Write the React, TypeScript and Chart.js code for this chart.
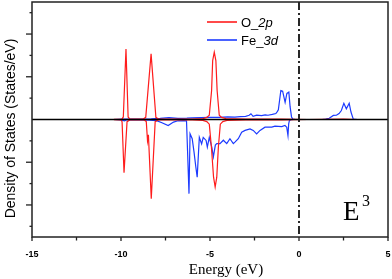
import React, { useEffect, useRef } from 'react';
import { Chart, registerables } from 'chart.js';

Chart.register(...registerables);

// ---- axis ticks ----
const X_MAJOR = [-15, -10, -5, 0, 5];
const X_MINOR = [-12.5, -7.5, -2.5, 2.5];
const Y_TICKS = [-5, -4, -3, -2, -1, 1, 2, 3, 4, 5];

// ---- O_2p spin up ----
const oUpE = [-10.4, -9.95, -9.87, -9.72, -9.6, -9.5, -8.75, -8.61, -8.31, -8.04, -7.9, -7.0, -6.0, -5.4, -5.18, -5.04, -4.91, -4.85, -4.76, -4.67, -4.6, -4.48, -4.35, -4.1, -3.0, -2.0, -1.0, -0.3, 0.5, 1.5, 2.5, 3.2];
const oUpV = [0.01, 0.02, 0.12, 3.3, 0.12, 0.02, 0.02, 0.1, 3.07, 0.1, 0.02, 0.02, 0.02, 0.04, 0.1, 0.2, 1.36, 2.76, 3.15, 2.76, 1.36, 0.2, 0.1, 0.04, 0.02, 0.02, 0.02, 0.01, 0.0, 0.01, 0.02, 0.0];

// ---- O_2p spin down ----
const oDnE = [-10.4, -10.0, -9.94, -9.83, -9.66, -9.5, -8.7, -8.58, -8.51, -8.46, -8.3, -8.08, -7.9, -7.0, -6.0, -5.4, -5.18, -5.04, -4.92, -4.8, -4.71, -4.62, -4.53, -4.42, -4.28, -4.05, -3.0, -2.0, -1.0, -0.3, 0.5, 3.2];
const oDnV = [-0.01, -0.02, -0.1, -2.49, -0.1, -0.02, -0.02, -0.1, -1.0, -0.72, -3.71, -0.1, -0.02, -0.02, -0.02, -0.04, -0.1, -0.22, -1.3, -2.7, -3.16, -2.7, -1.3, -0.22, -0.1, -0.04, -0.02, -0.02, -0.02, -0.01, 0.0, 0.0];

// ---- Fe_3d spin up ----
const feUpE = [-10.4, -9.9, -9.0, -8.3, -7.8, -7.3, -6.8, -6.3, -6.0, -5.5, -5.0, -4.5, -4.0, -3.6, -3.3, -3.0, -2.8, -2.7, -2.58, -2.38, -2.1, -1.9, -1.74, -1.5, -1.3, -1.22, -1.16, -1.02, -0.92, -0.78, -0.68, -0.57, -0.5, -0.42, -0.35, -0.2, 1.3, 1.5, 1.7, 1.93, 2.1, 2.25, 2.38, 2.52, 2.66, 2.82, 2.92, 3.05, 3.3];
const feUpV = [0.0, 0.02, 0.02, 0.03, 0.05, 0.09, 0.05, 0.06, 0.08, 0.09, 0.1, 0.1, 0.12, 0.11, 0.13, 0.15, 0.2, 0.27, 0.15, 0.2, 0.18, 0.22, 0.2, 0.24, 0.28, 0.37, 0.45, 1.36, 1.33, 0.8, 1.22, 1.28, 0.6, 0.12, 0.02, 0.0, 0.0, 0.02, 0.06, 0.19, 0.2, 0.28, 0.42, 0.76, 0.5, 0.76, 0.35, 0.02, 0.0];

// ---- Fe_3d spin down ----
const feDnE = [-10.4, -10.0, -9.8, -9.7, -9.0, -8.4, -8.0, -7.7, -7.35, -7.05, -6.8, -6.5, -6.32, -6.26, -6.18, -6.12, -6.0, -5.9, -5.8, -5.72, -5.6, -5.47, -5.38, -5.22, -5.15, -5.04, -4.9, -4.81, -4.7, -4.62, -4.44, -4.25, -4.06, -3.88, -3.69, -3.6, -3.41, -3.22, -3.03, -2.75, -2.57, -2.38, -2.19, -1.91, -1.53, -1.35, -0.97, -0.79, -0.69, -0.62, -0.58, -0.54, -0.45, -0.3, 3.3];
const feDnV = [0.0, -0.02, -0.06, -0.02, -0.02, -0.03, -0.05, -0.15, -0.28, -0.12, -0.06, -0.05, -0.06, -1.5, -3.47, -0.67, -0.9, -1.5, -2.2, -2.7, -0.83, -1.14, -0.84, -0.98, -1.29, -0.84, -1.29, -1.75, -1.2, -1.13, -1.13, -0.97, -1.13, -0.9, -1.13, -1.06, -0.9, -0.59, -0.51, -0.44, -0.51, -0.67, -0.51, -0.36, -0.36, -0.31, -0.33, -0.28, -0.36, -0.75, -0.2, -0.05, -0.01, 0.0, 0.0];

const RED = 'rgb(255,28,28)';
const BLUE = 'rgb(28,58,255)';

const pts = (e: number[], v: number[]) => e.map((x, i) => ({ x, y: v[i] }));

const SANS = "'Liberation Sans', Arial, sans-serif";
const SERIF = "'Liberation Serif', 'Times New Roman', serif";

const decor = {
  id: 'decor',
  afterDatasetsDraw(chart: any) {
    const { ctx, chartArea: a, scales } = chart;
    const xs = scales.x;
    const ys = scales.y;
    ctx.save();
    // zero line
    const y0 = ys.getPixelForValue(0);
    ctx.strokeStyle = '#000';
    ctx.lineWidth = 1.5;
    ctx.beginPath();
    ctx.moveTo(a.left, y0);
    ctx.lineTo(a.right, y0);
    ctx.stroke();
    // Fermi level dash-dot
    const xf = xs.getPixelForValue(0);
    ctx.setLineDash([8, 3, 2, 3]);
    ctx.lineWidth = 1.8;
    ctx.strokeStyle = '#111';
    ctx.beginPath();
    ctx.moveTo(xf, a.top);
    ctx.lineTo(xf, a.bottom);
    ctx.stroke();
    ctx.setLineDash([]);
    // frame
    ctx.strokeStyle = '#222';
    ctx.lineWidth = 1.5;
    ctx.strokeRect(a.left, a.top, a.right - a.left, a.bottom - a.top);
    // x ticks
    ctx.lineWidth = 1.3;
    X_MAJOR.forEach((t) => {
      const px = xs.getPixelForValue(t);
      ctx.beginPath();
      ctx.moveTo(px, a.bottom);
      ctx.lineTo(px, a.bottom + 4);
      ctx.stroke();
    });
    X_MINOR.forEach((t) => {
      const px = xs.getPixelForValue(t);
      ctx.beginPath();
      ctx.moveTo(px, a.bottom);
      ctx.lineTo(px, a.bottom + 3.5);
      ctx.stroke();
    });
    // y ticks
    Y_TICKS.forEach((t) => {
      const py = ys.getPixelForValue(t);
      const len = t % 2 === 0 ? 6 : 2.5;
      ctx.beginPath();
      ctx.moveTo(a.left, py);
      ctx.lineTo(a.left - len, py);
      ctx.stroke();
    });
    // x tick labels
    ctx.fillStyle = '#000';
    ctx.font = `bold 9px ${SANS}`;
    ctx.textAlign = 'center';
    ctx.textBaseline = 'alphabetic';
    X_MAJOR.forEach((t) => {
      ctx.fillText(String(t), xs.getPixelForValue(t), a.bottom + 20);
    });
    // x title
    ctx.font = `15px ${SERIF}`;
    ctx.textAlign = 'center';
    ctx.fillText('Energy (eV)', 226, 274);
    // y title
    ctx.save();
    ctx.translate(15, 128.5);
    ctx.rotate(-Math.PI / 2);
    ctx.font = `14px ${SANS}`;
    ctx.textAlign = 'center';
    ctx.fillText('Density of States (States/eV)', 0, 0);
    ctx.restore();
    // E^3 label
    ctx.textAlign = 'left';
    ctx.font = `27px ${SERIF}`;
    ctx.fillText('E', 343, 220);
    ctx.font = `16px ${SERIF}`;
    ctx.fillText('3', 362, 206);
    // legend
    const items = [
      { color: RED, a: 'O_', b: '2p', y: 22 },
      { color: BLUE, a: 'Fe_', b: '3d', y: 40 },
    ];
    items.forEach((it) => {
      ctx.strokeStyle = it.color;
      ctx.lineWidth = 1.6;
      ctx.beginPath();
      ctx.moveTo(207, it.y);
      ctx.lineTo(237, it.y);
      ctx.stroke();
      ctx.fillStyle = '#000';
      ctx.font = `13px ${SANS}`;
      ctx.textAlign = 'left';
      ctx.fillText(it.a, 241, it.y + 4.7);
      const w = ctx.measureText(it.a).width;
      ctx.font = `italic 13px ${SANS}`;
      ctx.fillText(it.b, 241 + w, it.y + 4.7);
    });
    ctx.restore();
  },
};

export default function App() {
  const ref = useRef<HTMLCanvasElement | null>(null);
  useEffect(() => {
    if (!ref.current) return;
    const common = { pointRadius: 0, borderWidth: 1.2, tension: 0, fill: false };
    const chart = new Chart(ref.current, {
      type: 'line',
      data: {
        datasets: [
          { label: 'O_2p', data: pts(oUpE, oUpV), borderColor: RED, ...common },
          { label: 'O_2p down', data: pts(oDnE, oDnV), borderColor: RED, ...common },
          { label: 'Fe_3d', data: pts(feUpE, feUpV), borderColor: BLUE, ...common },
          { label: 'Fe_3d down', data: pts(feDnE, feDnV), borderColor: BLUE, ...common },
        ],
      },
      options: {
        animation: false,
        responsive: false,
        devicePixelRatio: 1,
        layout: { padding: { left: 32, top: 2, right: 4, bottom: 42 } },
        plugins: { legend: { display: false }, tooltip: { enabled: false } },
        scales: {
          x: { type: 'linear', min: -15, max: 5, display: false },
          y: { type: 'linear', min: -5.5, max: 5.5, display: false },
        },
      },
      plugins: [decor],
    } as any);
    return () => chart.destroy();
  }, []);
  return (
    <div style={{ position: 'absolute', left: 0, top: 0, width: 392, height: 279, background: '#fff' }}>
      <canvas ref={ref} width={392} height={279} style={{ display: 'block' }} />
    </div>
  );
}
